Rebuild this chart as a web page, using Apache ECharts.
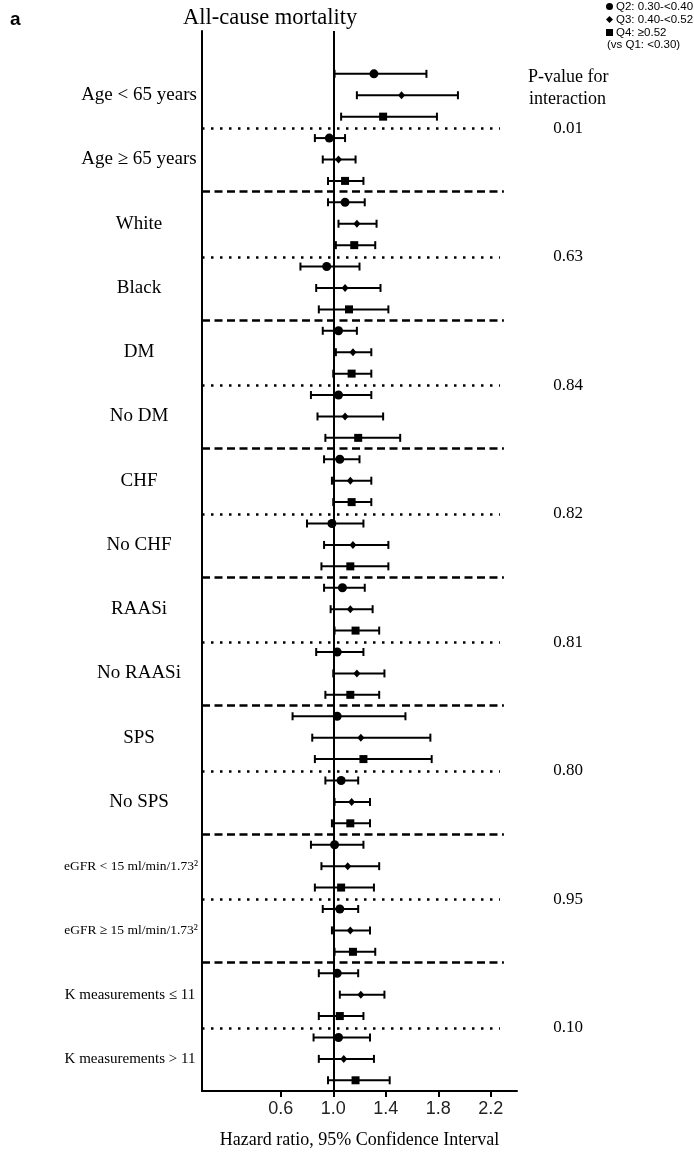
<!DOCTYPE html>
<html>
<head>
<meta charset="utf-8">
<script src="https://cdn.jsdelivr.net/npm/echarts@6/dist/echarts.min.js"></script>
<style>html,body{margin:0;padding:0;background:#fff}#chart{width:694px;height:1155px}</style>
</head>
<body>
<div id="chart"></div>
<script>
const groups = ['Age < 65 years','Age \u2265 65 years','White','Black','DM','No DM','CHF','No CHF','RAASi','No RAASi','SPS','No SPS','eGFR < 15 ml/min/1.73\u00b2','eGFR \u2265 15 ml/min/1.73\u00b2','K measurements \u2264 11','K measurements > 11'];
const pValues = ['0.01','0.63','0.84','0.82','0.81','0.80','0.95','0.10'];
const seriesNames = ['Q2: 0.30-<0.40','Q3: 0.40-<0.52','Q4: \u22650.52'];
const xTicks = [0.6, 1.0, 1.4, 1.8, 2.2];

const q2Est = [1.31,0.97,1.09,0.95,1.04,1.04,1.05,0.99,1.07,1.03,1.03,1.06,1.01,1.05,1.03,1.04];
const q2Lo  = [1.01,0.86,0.96,0.75,0.92,0.83,0.93,0.80,0.93,0.87,0.69,0.94,0.83,0.92,0.89,0.85];
const q2Hi  = [1.71,1.09,1.24,1.20,1.18,1.29,1.20,1.23,1.24,1.23,1.55,1.19,1.23,1.19,1.19,1.28];

const q3Est = [1.52,1.04,1.18,1.09,1.15,1.09,1.13,1.15,1.13,1.18,1.21,1.14,1.11,1.13,1.21,1.08];
const q3Lo  = [1.18,0.92,1.04,0.87,1.02,0.88,0.99,0.93,0.98,1.00,0.84,1.01,0.91,0.99,1.05,0.89];
const q3Hi  = [1.95,1.17,1.33,1.36,1.29,1.38,1.29,1.42,1.30,1.39,1.74,1.28,1.35,1.28,1.39,1.31];

const q4Est = [1.38,1.09,1.16,1.12,1.14,1.19,1.14,1.13,1.17,1.13,1.23,1.13,1.06,1.15,1.05,1.17];
const q4Lo  = [1.06,0.96,1.02,0.89,1.00,0.94,1.00,0.91,1.01,0.94,0.86,0.99,0.86,1.01,0.89,0.96];
const q4Hi  = [1.79,1.23,1.32,1.42,1.29,1.51,1.29,1.42,1.35,1.35,1.75,1.28,1.31,1.32,1.23,1.43];

const SERIF = 'Liberation Serif';
const SANS = 'Liberation Sans';

const quant = [
  {est:q2Est, lo:q2Lo, hi:q2Hi, symbol:'circle', size:9},
  {est:q3Est, lo:q3Lo, hi:q3Hi, symbol:'diamond', size:[7,8]},
  {est:q4Est, lo:q4Lo, hi:q4Hi, symbol:'rect', size:8}
];

const errData = [];
quant.forEach((q, qi) => {
  q.est.forEach((v, g) => {
    errData.push([q.lo[g], q.hi[g], g * 3 + qi]);
  });
});

const dottedY = pValues.map((p, i) => i * 6 + 2.55);
const dashedY = [];
for (let i = 0; i < 7; i++) dashedY.push(i * 6 + 5.5);

const sepLines = [];
dottedY.forEach(y => sepLines.push([
  {coord:[0, y], lineStyle:{type:[2.5,6.5], width:2.5, color:'#000'}},
  {coord:[2.27, y]}
]));
dashedY.forEach(y => sepLines.push([
  {coord:[0, y], lineStyle:{type:[8,4.5], width:2.5, color:'#000'}},
  {coord:[2.3, y]}
]));

function groupLabel(v) {
  const name = groups[Math.round((v - 1) / 3)];
  if (!name) return '';
  if (name.indexOf('eGFR') === 0) return '{e|' + name + '}';
  if (name.indexOf('K meas') === 0) return '{k|' + name + '}';
  return '{s|' + name + '}';
}

const series = [
  {
    type: 'custom',
    name: 'err',
    data: errData,
    silent: true,
    z: 3,
    renderItem: function (params, api) {
      const lo = api.coord([api.value(0), api.value(2)]);
      const hi = api.coord([api.value(1), api.value(2)]);
      const h = 4;
      const st = {stroke:'#000', lineWidth:2};
      return {
        type: 'group',
        children: [
          {type:'line', shape:{x1:lo[0], y1:lo[1], x2:hi[0], y2:hi[1]}, style:st},
          {type:'line', shape:{x1:lo[0], y1:lo[1]-h, x2:lo[0], y2:lo[1]+h}, style:st},
          {type:'line', shape:{x1:hi[0], y1:hi[1]-h, x2:hi[0], y2:hi[1]+h}, style:st}
        ]
      };
    },
    markLine: {
      silent: true,
      symbol: 'none',
      label: {show:false},
      animation: false,
      data: sepLines.concat([
        {xAxis: 1, lineStyle:{type:'solid', width:2, color:'#000'}}
      ])
    }
  }
];

quant.forEach((q, qi) => {
  series.push({
    type: 'scatter',
    name: seriesNames[qi],
    symbol: q.symbol,
    symbolSize: q.size,
    itemStyle: {color:'#000', opacity:1},
    z: 5,
    data: q.est.map((v, g) => [v, g * 3 + qi])
  });
});

const chart = echarts.init(document.getElementById('chart'), null, {renderer:'canvas'});
chart.setOption({
  animation: false,
  backgroundColor: '#fff',
  title: [
    {text:'a', left:10, top:10, padding:0, textStyle:{fontFamily:SANS, fontSize:19, fontWeight:'bold', color:'#000'}},
    {text:'All-cause mortality', left:183, top:7, padding:0, textStyle:{fontFamily:SERIF, fontSize:22.5, fontWeight:'normal', color:'#000'}}
  ],
  legend: {
    orient: 'vertical',
    left: 606,
    top: 0,
    itemWidth: 7,
    itemHeight: 7,
    itemGap: 0,
    itemStyle: {borderWidth:0},
    padding: 0,
    selectedMode: false,
    data: seriesNames.map((n, i) => ({name:n, icon: quant[i].symbol})),
    textStyle: {fontFamily:SANS, fontSize:11.5, color:'#000', lineHeight:13, padding:[0,0,0,-2]}
  },
  graphic: [
    {type:'text', left:607, top:39, style:{text:'(vs Q1: <0.30)', font:'11.5px "Liberation Sans"', fill:'#000'}},
    {type:'text', left:528, top:68, style:{text:'P-value for', font:'18px "Liberation Serif"', fill:'#000'}},
    {type:'text', left:529, top:90, style:{text:'interaction', font:'18px "Liberation Serif"', fill:'#000'}}
  ],
  grid: {left:202, right:177, top:31, bottom:64, containLabel:false},
  xAxis: {
    type: 'value',
    min: 0,
    max: 2.4,
    name: 'Hazard ratio, 95% Confidence Interval',
    nameLocation: 'middle',
    nameGap: 40,
    nameTextStyle: {fontFamily:SERIF, fontSize:18, color:'#000'},
    axisLine: {show:true, onZero:false, lineStyle:{color:'#000', width:2}},
    axisTick: {show:true, length:6, lineStyle:{color:'#000', width:2}, customValues:xTicks},
    axisLabel: {customValues:xTicks, formatter: v => v.toFixed(1), fontFamily:SANS, fontSize:18, color:'#222', margin:9},
    splitLine: {show:false}
  },
  yAxis: [
    {
      type: 'value',
      inverse: true,
      min: -2,
      max: 47.5,
      position: 'left',
      axisLine: {show:true, onZero:false, lineStyle:{color:'#000', width:2}},
      axisTick: {show:false},
      splitLine: {show:false},
      axisLabel: {
        customValues: groups.map((g, i) => i * 3 + 1),
        formatter: groupLabel,
        align: 'center',
        margin: 63,
        color: '#000',
        rich: {
          s: {fontFamily:SERIF, fontSize:19, color:'#000'},
          k: {fontFamily:SERIF, fontSize:15, color:'#000', padding:[0,18,0,0]},
          e: {fontFamily:SERIF, fontSize:13.5, color:'#000', padding:[0,16,0,0]}
        }
      }
    },
    {
      type: 'value',
      inverse: true,
      min: -2,
      max: 47.5,
      position: 'right',
      axisLine: {show:false},
      axisTick: {show:false},
      splitLine: {show:false},
      axisLabel: {
        customValues: dottedY,
        formatter: v => pValues[Math.round((v - 2.55) / 6)],
        align: 'center',
        margin: 51,
        fontFamily: SERIF,
        fontSize: 17,
        color: '#000'
      }
    }
  ],
  series: series
});
</script>
</body>
</html>
